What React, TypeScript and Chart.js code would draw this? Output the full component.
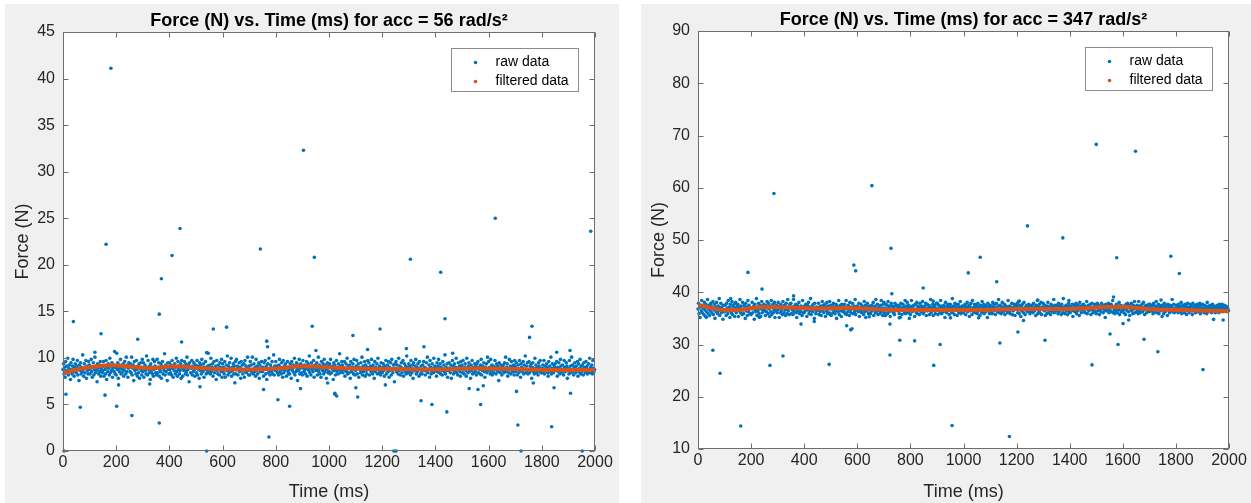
import React, { useEffect, useRef } from 'react';
import { Chart, registerables } from 'chart.js';
Chart.register(...registerables);

const FONT = '"Liberation Sans", Arial, Helvetica, sans-serif';
const BLUE = '#0072BD';
const ORANGE = '#D95319';

// ---------- tick values ----------
const TIME_TICKS = [0, 200, 400, 600, 800, 1000, 1200, 1400, 1600, 1800, 2000];
const FORCE_TICKS_L = [0, 5, 10, 15, 20, 25, 30, 35, 40, 45];
const FORCE_TICKS_R = [10, 20, 30, 40, 50, 60, 70, 80, 90];

const TITLE_L = 'Force (N) vs. Time (ms) for acc = 56 rad/s\u00B2';
const TITLE_R = 'Force (N) vs. Time (ms) for acc = 347 rad/s\u00B2';

// dense band of raw samples: one sample every 2 ms; force = base + unit * code
const BAND_STEP_MS = 2;

// ---------- left chart (acc = 56) ----------
const L_OUT_T = [180, 904, 1625, 440, 1984, 162, 742, 410, 945, 1306, 1420, 370, 362, 1436, 39, 143, 281, 446, 565, 615, 766, 769, 937, 120, 202, 546, 951, 11, 158, 65, 202, 259, 362, 515, 754, 808, 852, 774, 893, 4, 540, 209, 326, 995, 1022, 1090, 1192, 1357, 1763, 1754, 1145, 1291, 1465, 1856, 1906, 1022, 1029, 1108, 1101, 1212, 1346, 1387, 1443, 1527, 1560, 1580, 1570, 1705, 1710, 1768, 1846, 1837, 1908, 1244, 1252, 1722, 1952];
const L_OUT_F = [41.1, 32.3, 25.0, 23.9, 23.6, 22.2, 21.7, 21.0, 20.8, 20.6, 19.2, 18.5, 14.7, 14.2, 13.9, 12.6, 12.0, 11.7, 13.1, 13.3, 11.8, 11.2, 13.4, 10.6, 10.5, 10.5, 10.8, 6.1, 6.0, 4.7, 4.8, 3.8, 3.0, 6.9, 6.6, 5.5, 4.8, 1.5, 6.7, 0, 0, 7.1, 7.2, 7.3, 6.2, 12.4, 13.1, 11.2, 13.4, 12.2, 10.9, 11.0, 10.5, 10.6, 10.8, 6.1, 5.9, 5.8, 6.8, 7.1, 5.4, 5.0, 4.2, 6.7, 6.6, 7.0, 5.0, 6.4, 2.8, 7.3, 6.8, 2.6, 6.2, 0, 0, 0, 0];

const L_BAND_BASE = -1.8;
const L_BAND_UNIT = 0.12;
const L_BAND_CODES = [
88,93,84,90,81,95,87,91,85,98,83,89,92,86,79,94,88,84,91,97,86,82,90,93,87,
85,91,96,83,89,78,92,87,94,84,90,86,101,88,82,93,85,89,96,80,91,87,84,95,88,
92,84,89,97,86,81,90,94,83,88,99,85,91,87,77,93,89,84,92,86,95,82,88,90,85,
87,95,82,91,88,84,96,79,90,86,93,89,83,98,85,91,87,94,81,89,92,86,104,84,90,
83,90,88,94,80,92,86,89,97,84,91,85,88,93,82,87,95,90,84,99,86,92,81,89,94,
91,86,93,85,99,83,89,92,78,95,87,90,84,96,88,82,91,85,93,80,89,94,87,83,97,
86,94,81,89,92,87,84,100,90,83,96,88,85,91,79,93,86,90,84,97,82,88,95,91,85,
89,83,97,85,90,94,82,88,86,93,80,91,95,84,89,87,102,83,92,86,90,78,94,88,84,
94,88,85,92,83,96,89,81,91,87,93,84,90,98,86,82,95,88,91,84,87,93,80,96,89,
82,91,87,95,89,84,93,86,99,83,88,92,77,94,90,85,89,96,83,91,86,94,88,82,92,
90,85,96,83,91,88,80,94,87,92,84,97,89,86,93,81,90,88,95,84,103,87,91,85,89,
87,92,84,98,86,90,93,82,89,95,85,88,91,79,96,87,84,92,89,83,94,90,86,97,81,
93,86,90,84,95,81,88,92,87,100,83,91,85,94,89,86,98,82,90,87,93,84,91,76,95,
84,97,88,91,83,89,94,86,90,80,95,87,92,84,88,93,81,96,86,91,85,89,99,87,83,
91,83,95,87,92,85,99,88,84,93,86,90,82,97,87,91,84,89,94,80,92,86,88,95,90,
86,90,82,94,88,96,84,91,79,89,93,85,98,87,83,92,90,86,95,84,88,101,83,91,87,
95,87,91,85,89,83,92,97,86,90,84,94,88,81,96,85,91,87,93,89,82,90,95,86,84,
88,84,93,90,80,95,87,89,92,85,98,83,91,86,94,88,78,92,87,97,84,89,93,85,90,
83,96,89,86,92,88,84,91,95,82,89,93,87,100,85,90,83,94,88,91,86,96,81,89,92,
90,87,94,83,88,99,86,92,84,89,81,95,90,87,93,84,97,86,89,92,80,88,94,85,91,
86,93,84,97,90,85,91,88,79,94,87,92,83,89,96,86,90,84,93,88,102,85,91,87,95,
92,85,90,88,95,82,87,93,86,98,84,91,89,85,92,80,95,88,86,90,93,84,97,89,83,
87,91,96,84,89,93,81,90,88,85,94,87,99,83,91,86,89,95,82,92,87,84,90,96,88,
94,83,88,91,86,97,90,84,92,87,80,95,86,90,88,93,84,98,89,85,91,87,83,94,86,
85,90,93,87,82,91,88,96,84,89,92,86,95,81,90,87,94,83,97,88,85,92,89,77,93,
89,95,86,92,88,84,98,87,91,83,90,94,85,89,96,82,88,93,86,91,84,100,87,90,85,
93,86,91,83,96,89,85,92,80,94,88,87,91,97,84,90,86,93,89,82,95,88,84,91,87,
84,92,88,95,87,90,83,89,94,86,99,85,88,92,81,96,90,84,87,93,89,85,98,86,91,
90,88,82,94,86,91,97,85,89,93,84,90,87,83,95,88,92,86,101,84,90,87,93,81,89,
87,94,89,85,92,80,88,96,91,84,87,93,86,90,98,85,89,83,94,88,91,86,82,95,90,
92,85,96,88,84,90,93,87,82,98,89,85,91,94,86,88,80,92,87,96,84,90,89,85,93,
86,91,83,93,89,95,85,90,88,84,92,97,83,87,91,89,94,86,81,90,88,93,85,99,87,
95,88,90,84,97,86,92,83,89,91,85,88,96,90,84,93,87,91,86,78,94,89,85,92,88,
83,90,87,92,85,94,88,99,86,90,93,82,89,85,97,88,91,84,95,87,90,86,92,83,96,
91,86,94,89,83,88,92,85,96,87,81,93,90,86,89,95,84,92,88,100,85,91,87,94,84,
88,95,85,91,87,93,80,90,94,86,89,84,98,88,92,85,90,87,83,94,91,86,96,89,85,
85,89,92,86,96,84,91,88,87,93,90,85,82,95,87,91,86,99,84,89,93,88,85,92,90,
93,87,88,95,82,90,86,94,89,84,97,91,87,85,92,88,83,96,90,86,88,94,91,80,87,
89,84,96,87,91,85,99,88,92,86,83,90,94,89,85,91,87,95,82,93,86,89,97,84,91,
86,92,88,83,94,90,87,85,95,89,91,84,88,93,86,98,85,90,87,92,84,96,89,86,88];

const L_FILT_T = [0, 60, 130, 180, 260, 320, 420, 500, 580, 700, 800, 900, 960, 1060, 1200, 1400, 1550, 1700, 1850, 2000];
const L_FILT_F = [8.35, 8.8, 9.1, 9.2, 9.05, 8.9, 9.1, 8.95, 8.8, 8.75, 8.85, 9.1, 9.05, 8.9, 8.8, 8.75, 8.85, 8.8, 8.7, 8.7];

// ---------- right chart (acc = 347) ----------
const R_OUT_T = [56, 83, 161, 957, 1173, 188, 241, 286, 360, 587, 594, 655, 727, 730, 848, 1018, 1063, 1125, 1241, 1374, 1577, 1565, 1648, 1500, 1781, 1813, 1744, 1280, 1397, 886, 1210, 123, 32, 388, 438, 560, 580, 645, 723, 758, 951, 1057, 1226, 1601, 1622, 1942, 1978, 231, 271, 320, 494, 575, 723, 760, 816, 888, 912, 1137, 1205, 1307, 1484, 1552, 1582, 1680, 1732, 1902];
const R_OUT_F = [28.9, 24.5, 14.4, 14.5, 12.4, 43.8, 40.6, 58.9, 39.3, 45.2, 44.1, 60.4, 48.4, 39.7, 40.8, 43.7, 46.7, 42.0, 52.7, 50.4, 46.6, 39.1, 67.0, 68.3, 46.9, 43.6, 38.5, 38.5, 38.4, 38.3, 38.3, 38.8, 35.2, 33.9, 34.4, 33.6, 33.0, 35.3, 33.9, 35.1, 35.1, 35.1, 34.6, 34.0, 34.7, 34.8, 34.7, 35.2, 26.0, 27.8, 26.2, 32.8, 28.0, 30.8, 30.7, 26.0, 30.0, 30.3, 32.4, 30.8, 26.1, 32.0, 30.0, 31.0, 28.6, 25.2];

const R_BAND_BASE = 24.56;
const R_BAND_UNIT = 0.18;
const R_BAND_CODES = [
68,74,63,70,59,72,66,77,64,69,71,62,75,67,60,73,65,70,78,63,68,72,61,66,74,
71,64,69,76,62,67,73,58,70,65,75,68,63,71,66,79,61,69,74,64,70,67,57,72,65,
65,72,67,61,74,69,63,77,66,70,59,73,68,64,76,62,71,67,73,60,69,75,64,68,71,
73,60,70,66,78,64,71,68,62,75,67,63,72,69,58,74,66,70,61,77,65,72,68,63,69,
62,69,75,64,68,71,57,73,67,65,79,61,70,66,74,63,69,72,60,68,76,64,71,67,73,
70,66,61,72,65,76,69,63,74,68,60,71,65,77,62,70,73,64,67,75,59,69,66,72,64,
67,75,68,59,71,64,73,66,70,62,76,69,64,72,67,61,74,68,63,78,66,70,62,73,69,
74,63,70,67,62,78,65,71,68,73,64,59,72,66,70,75,63,69,65,71,68,61,77,64,70,
64,71,66,73,69,60,72,67,75,63,70,66,79,62,68,71,65,73,69,58,74,67,63,70,66,
69,67,74,62,70,65,71,61,68,76,66,72,64,69,73,60,70,66,75,63,71,68,64,76,62,
72,61,68,71,64,74,67,70,63,66,73,58,71,68,65,77,62,69,72,66,60,73,67,65,71,
66,73,63,69,77,62,70,65,72,68,61,75,67,64,70,69,74,63,68,71,65,78,62,70,67,
71,68,65,74,60,69,66,73,64,71,67,70,62,76,65,72,59,70,66,74,68,63,71,69,64,
63,70,72,66,68,75,61,67,71,64,78,65,69,73,62,68,70,66,63,72,77,65,69,61,73,
75,64,69,61,73,67,72,63,76,69,65,71,60,67,74,66,71,68,64,70,62,74,66,72,68,
68,72,66,70,63,71,59,74,67,62,69,73,66,70,64,77,63,71,67,75,69,64,72,58,70,
62,69,77,65,71,66,68,72,60,73,68,64,75,63,71,67,70,62,74,68,65,71,67,76,63,
70,65,71,68,74,61,73,66,69,67,72,62,70,78,64,69,66,73,61,70,72,67,63,69,74,
67,74,62,72,66,69,64,77,71,63,70,67,65,72,69,59,75,68,64,71,66,73,70,62,68,
73,66,70,64,79,65,71,68,62,74,67,69,72,61,68,73,64,70,66,76,63,69,71,67,65,
64,71,67,73,62,70,68,75,65,69,72,60,71,66,74,68,62,77,69,65,70,73,64,68,72,
69,63,74,66,70,67,61,72,68,64,76,70,66,73,63,69,72,65,71,67,59,74,66,70,63,
72,68,65,71,63,75,69,66,73,70,62,68,74,67,65,71,78,64,68,72,66,63,70,75,67,
65,70,73,62,68,71,66,70,64,77,69,65,71,63,70,67,74,62,69,66,73,70,61,68,72,
70,74,64,69,76,63,72,67,60,71,66,73,68,64,75,69,62,70,67,72,65,71,69,73,66,
63,67,71,65,72,68,64,74,69,66,70,61,72,68,77,63,70,66,73,64,69,75,62,70,68,
74,69,66,72,61,70,67,63,71,75,64,68,70,66,62,73,68,71,65,69,78,64,72,67,70,
66,72,68,63,74,65,71,69,67,62,73,70,64,79,67,70,63,68,72,66,71,62,69,74,65,
71,64,70,67,69,73,60,66,72,68,65,71,74,63,69,66,72,68,61,75,67,70,64,72,68,
68,73,65,71,64,70,68,76,63,69,72,66,67,70,73,62,69,74,67,64,70,68,73,65,71,
63,70,74,66,72,67,62,71,68,65,74,69,71,64,68,72,66,59,73,69,66,71,68,74,64,
72,66,69,73,65,71,77,64,70,67,63,70,66,73,69,64,71,67,75,62,69,72,65,70,67,
67,71,64,70,68,62,73,69,66,74,70,65,72,61,70,68,74,66,69,63,72,68,76,64,70,
70,65,72,67,63,76,66,71,64,70,68,73,65,69,75,67,62,71,68,72,64,69,71,66,73,
65,73,68,71,66,69,72,63,74,67,65,71,69,76,64,70,67,73,63,68,71,66,70,72,60,
71,67,63,74,70,65,68,72,69,61,73,67,70,64,72,66,69,71,78,65,68,73,64,69,67,
68,72,66,69,64,73,70,65,71,68,75,63,68,72,67,70,64,73,66,71,62,70,74,67,69,
64,70,73,67,71,66,62,74,68,70,66,72,64,70,69,73,65,68,71,67,74,63,69,72,66,
73,66,69,64,72,68,71,67,63,75,69,65,71,68,66,72,70,64,69,73,66,71,67,70,64,
69,71,65,72,67,70,64,73,69,66,71,68,73,65,70,67,72,66,68,71,69,65,70,68,66];

const R_FILT_T = [0, 50, 94, 170, 245, 350, 450, 561, 650, 750, 900, 1062, 1200, 1314, 1450, 1540, 1600, 1690, 1800, 2000];
const R_FILT_F = [37.6, 37.0, 36.6, 36.7, 37.2, 37.1, 36.9, 37.0, 36.8, 36.6, 36.6, 36.6, 36.8, 36.8, 36.9, 37.2, 37.2, 36.8, 36.6, 36.4];

type Panel = {
  title: string;
  outT: number[];
  outF: number[];
  bandCodes: number[];
  bandBase: number;
  bandUnit: number;
  filtT: number[];
  filtF: number[];
  yMin: number;
  yMax: number;
  yTicks: number[];
  padRight: number;
  yAxisW: number;
  xAxisH: number;
  titlePadTop: number;
  titlePadBottom: number;
};

function makeChart(canvas: HTMLCanvasElement, p: Panel) {
  const raw: { x: number; y: number }[] = [];
  for (let i = 0; i < p.outT.length; i++) raw.push({ x: p.outT[i], y: p.outF[i] });
  p.bandCodes.forEach((c, i) => raw.push({ x: i * BAND_STEP_MS, y: p.bandBase + p.bandUnit * c }));
  const filt = p.filtT.map((t, i) => ({ x: t, y: p.filtF[i] }));

  const framePlugin = {
    id: 'matlabFrame',
    beforeDraw(chart: any) {
      const { ctx, chartArea: a } = chart;
      ctx.save();
      ctx.fillStyle = '#ffffff';
      ctx.fillRect(a.left, a.top, a.right - a.left, a.bottom - a.top);
      ctx.restore();
    },
    afterDraw(chart: any) {
      const { ctx, chartArea: a, scales } = chart;
      const L = Math.round(a.left) + 0.5;
      const R = Math.round(a.right) - 0.5;
      const T = Math.round(a.top) + 0.5;
      const B = Math.round(a.bottom) - 0.5;
      ctx.save();
      ctx.strokeStyle = '#6e6e6e';
      ctx.lineWidth = 1;
      ctx.strokeRect(L, T, R - L, B - T);
      const tl = 5;
      ctx.beginPath();
      scales.x.ticks.forEach((t: any) => {
        const x = Math.round(scales.x.getPixelForValue(t.value)) + 0.5;
        ctx.moveTo(x, B); ctx.lineTo(x, B - tl);
        ctx.moveTo(x, T); ctx.lineTo(x, T + tl);
      });
      scales.y.ticks.forEach((t: any) => {
        const y = Math.round(scales.y.getPixelForValue(t.value)) + 0.5;
        ctx.moveTo(L, y); ctx.lineTo(L + tl, y);
        ctx.moveTo(R, y); ctx.lineTo(R - tl, y);
      });
      ctx.stroke();

      // legend box
      const bw = 127, bh = 43;
      const bx = Math.round(a.right - 17 - bw) + 0.5;
      const by = Math.round(a.top + 16) + 0.5;
      ctx.fillStyle = '#ffffff';
      ctx.fillRect(bx, by, bw, bh);
      ctx.strokeStyle = '#8c8c8c';
      ctx.strokeRect(bx, by, bw, bh);
      const items = [
        { label: chart.data.datasets[0].label, color: BLUE, dy: 14 },
        { label: chart.data.datasets[1].label, color: ORANGE, dy: 33 },
      ];
      ctx.font = `14px ${FONT}`;
      ctx.textBaseline = 'middle';
      ctx.textAlign = 'left';
      items.forEach((it) => {
        ctx.fillStyle = it.color;
        ctx.beginPath();
        ctx.arc(bx + 24, by + it.dy, 1.8, 0, Math.PI * 2);
        ctx.fill();
        ctx.fillStyle = '#000000';
        ctx.fillText(it.label, bx + 44, by + it.dy);
      });
      ctx.restore();
    },
  };

  return new Chart(canvas, {
    type: 'scatter',
    data: {
      datasets: [
        {
          label: 'raw data',
          data: raw,
          backgroundColor: BLUE,
          borderWidth: 0,
          pointRadius: 1.8,
          pointHoverRadius: 1.8,
          order: 1,
          clip: false,
        } as any,
        {
          label: 'filtered data',
          data: filt,
          showLine: true,
          borderColor: ORANGE,
          backgroundColor: ORANGE,
          borderWidth: 4,
          pointRadius: 0,
          cubicInterpolationMode: 'monotone',
          order: 0,
          fill: false,
        } as any,
      ],
    },
    options: {
      animation: false,
      responsive: false,
      devicePixelRatio: 1,
      events: [],
      layout: { padding: { left: 0, right: p.padRight, top: 0, bottom: 0 } },
      plugins: {
        legend: { display: false },
        tooltip: { enabled: false },
        title: {
          display: true,
          fullSize: false,
          text: p.title,
          color: '#000000',
          font: { family: FONT, size: 18, weight: 'bold', lineHeight: 1.2 },
          padding: { top: p.titlePadTop, bottom: p.titlePadBottom },
        },
      },
      scales: {
        x: {
          type: 'linear',
          min: 0,
          max: 2000,
          afterBuildTicks: (s: any) => { s.ticks = TIME_TICKS.map((v) => ({ value: v })); },
          ticks: {
            callback: (v: any) => String(v),
            color: '#262626',
            font: { family: FONT, size: 16, lineHeight: 1.2 },
            padding: 2,
            maxRotation: 0,
            autoSkip: false,
          },
          grid: { display: false, drawTicks: false },
          border: { display: false },
          title: {
            display: true,
            text: 'Time (ms)',
            color: '#262626',
            font: { family: FONT, size: 18, lineHeight: 1.2 },
            padding: { top: 0, bottom: 0 },
          },
          afterFit: (s: any) => { s.height = p.xAxisH; },
        },
        y: {
          type: 'linear',
          min: p.yMin,
          max: p.yMax,
          afterBuildTicks: (s: any) => { s.ticks = p.yTicks.map((v) => ({ value: v })); },
          ticks: {
            callback: (v: any) => String(v),
            color: '#262626',
            font: { family: FONT, size: 16, lineHeight: 1.2 },
            padding: 8,
            autoSkip: false,
          },
          grid: { display: false, drawTicks: false },
          border: { display: false },
          title: {
            display: true,
            text: 'Force (N)',
            color: '#262626',
            font: { family: FONT, size: 18, lineHeight: 1.2 },
            padding: { top: 7, bottom: 0 },
          },
          afterFit: (s: any) => { s.width = p.yAxisW; },
        },
      },
    } as any,
    plugins: [framePlugin as any],
  });
}

const LEFT: Panel = {
  title: TITLE_L,
  outT: L_OUT_T,
  outF: L_OUT_F,
  bandCodes: L_BAND_CODES,
  bandBase: L_BAND_BASE,
  bandUnit: L_BAND_UNIT,
  filtT: L_FILT_T,
  filtF: L_FILT_F,
  yMin: 0,
  yMax: 45,
  yTicks: FORCE_TICKS_L,
  padRight: 24,
  yAxisW: 58,
  xAxisH: 52,
  titlePadTop: 6,
  titlePadBottom: 0.4,
};

const RIGHT: Panel = {
  title: TITLE_R,
  outT: R_OUT_T,
  outF: R_OUT_F,
  bandCodes: R_BAND_CODES,
  bandBase: R_BAND_BASE,
  bandUnit: R_BAND_UNIT,
  filtT: R_FILT_T,
  filtF: R_FILT_F,
  yMin: 10,
  yMax: 90,
  yTicks: FORCE_TICKS_R,
  padRight: 22,
  yAxisW: 57,
  xAxisH: 54,
  titlePadTop: 5,
  titlePadBottom: 0.4,
};

export default function App() {
  const c1 = useRef<HTMLCanvasElement>(null);
  const c2 = useRef<HTMLCanvasElement>(null);
  useEffect(() => {
    const a = makeChart(c1.current!, LEFT);
    const b = makeChart(c2.current!, RIGHT);
    return () => { a.destroy(); b.destroy(); };
  }, []);
  return (
    <div style={{ position: 'fixed', left: 0, top: 0, width: 1251, height: 503, background: '#ffffff', overflow: 'hidden' }}>
      <div style={{ position: 'absolute', left: 5, top: 4, width: 614, height: 499, background: '#f0f0f0' }}>
        <canvas ref={c1} width={614} height={499} style={{ display: 'block', width: 614, height: 499 }} />
      </div>
      <div style={{ position: 'absolute', left: 641, top: 4, width: 610, height: 499, background: '#f0f0f0' }}>
        <canvas ref={c2} width={610} height={499} style={{ display: 'block', width: 610, height: 499 }} />
      </div>
    </div>
  );
}
